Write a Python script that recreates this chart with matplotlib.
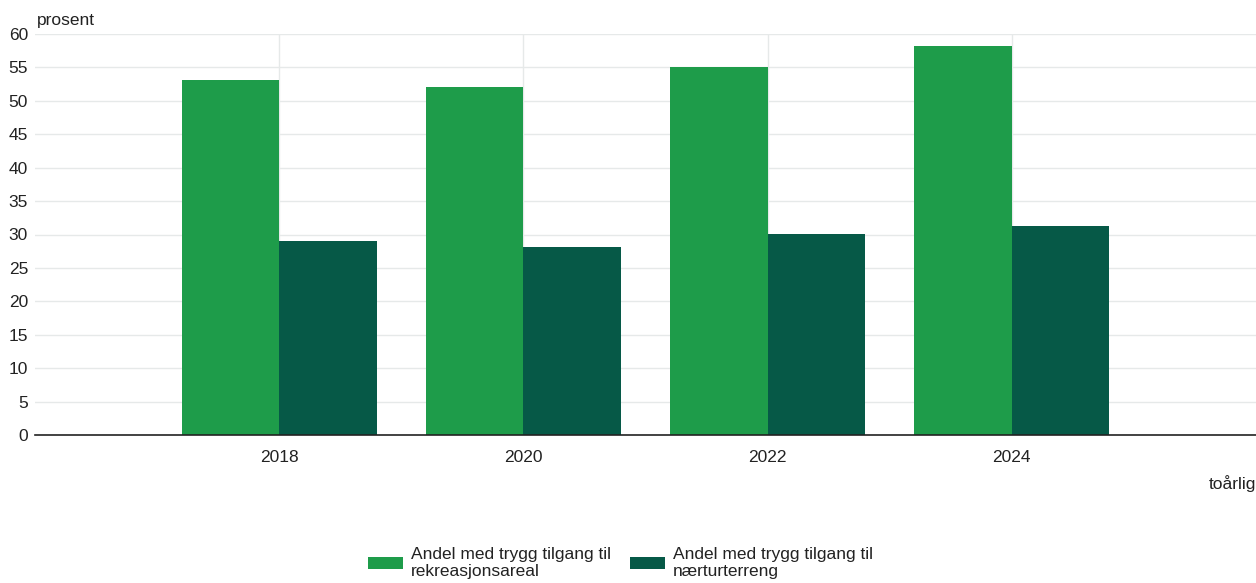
import matplotlib
matplotlib.use("Agg")
import matplotlib.pyplot as plt
import numpy as np

years = ["2018", "2020", "2022", "2024"]
rekreasjon = [53.1, 52.0, 55.1, 58.2]
naerturterreng = [29.0, 28.1, 30.1, 31.2]
series_labels = ["Andel med trygg tilgang til\nrekreasjonsareal",
                 "Andel med trygg tilgang til\nnærturterreng"]
colors = ["#1e9c4a", "#065947"]

plt.rcParams['font.family'] = ['Liberation Sans', 'DejaVu Sans']
FS = 12.5

fig = plt.figure(figsize=(12.56, 5.83), dpi=100)
ax = fig.add_axes([35/1256, 1-435/583, 1-35/1256, (435-34)/583])

x = np.arange(len(years))
w = 0.4
ax.bar(x - w/2, rekreasjon, w, color=colors[0], label=series_labels[0], zorder=3)
ax.bar(x + w/2, naerturterreng, w, color=colors[1], label=series_labels[1], zorder=3)

ax.set_xlim(-1, len(years))
ax.set_ylim(0, 60)
ax.set_yticks(np.arange(0, 61, 5))
ax.set_xticks(x)
ax.set_xticklabels(years)
ax.tick_params(axis='both', length=0, labelsize=FS, colors='#222222')
ax.tick_params(axis='x', pad=11)
ax.tick_params(axis='y', pad=5)
ax.grid(True, color='#e6e9e9', lw=1, zorder=0)
for s in ['left', 'right', 'top']:
    ax.spines[s].set_visible(False)
ax.spines['bottom'].set_color('#222222')
ax.spines['bottom'].set_linewidth(1.2)
ax.spines['bottom'].set_zorder(4)

fig.text(37/1256, 1-20/583, "prosent", fontsize=FS, color='#222222', ha='left', va='center')
fig.text(1.0, 1-484/583, "toårlig", fontsize=FS, color='#222222', ha='right', va='center')

fig.legend(loc='center', bbox_to_anchor=(0.494, 1-563/583), ncol=2, frameon=False,
           fontsize=FS, handlelength=2.0, handleheight=0.7, columnspacing=1.1,
           handletextpad=0.45, labelcolor='#222222', borderaxespad=0, borderpad=0)

fig.savefig("out.png", dpi=100)
